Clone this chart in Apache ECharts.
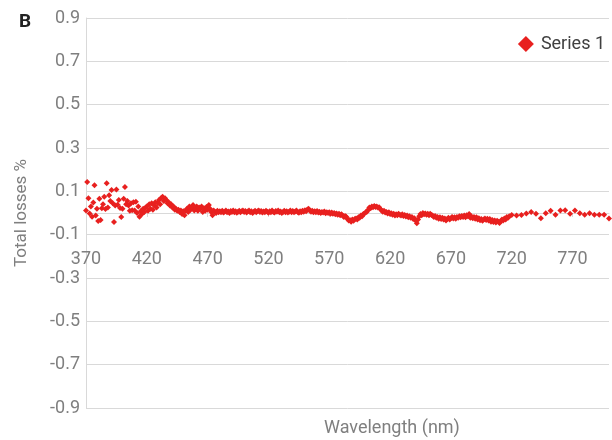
<!DOCTYPE html>
<html>
<head>
<meta charset="utf-8">
<script src="https://cdn.jsdelivr.net/npm/echarts@6/dist/echarts.min.js"></script>
<style>html,body{margin:0;padding:0;background:#fff;}#c{width:612px;height:440px;}</style>
</head>
<body>
<div id="c"></div>
<script>
const panelLabel = 'B';
const seriesName = 'Series 1';
const xTitle = 'Wavelength (nm)';
const yTitle = 'Total losses %';
const xTickValues = [370, 420, 470, 520, 570, 620, 670, 720, 770];
const yTickValues = [-0.9, -0.7, -0.5, -0.3, -0.1, 0.1, 0.3, 0.5, 0.7, 0.9];

const wavelengths = [
370,371,372,373,374,375,376,377,378,379,
380,381,382,383,384,385,386,387,388,389,
390,391,392,393,394,395,396,397,398,399,
400,401,402,403,404,405,406,407,408,409,
410,411,412,413,414,415,416,417,418,419,
420,421,422,423,424,425,426,427,428,429,
430,431,432,433,434,435,436,437,438,439,
440,441,442,443,444,445,446,447,448,449,
450,451,452,453,454,455,456,457,458,459,
460,461,462,463,464,465,466,467,468,469,
470,471,472,473,474,475,476,477,478,479,
480,481,482,483,484,485,486,487,488,489,
490,491,492,493,494,495,496,497,498,499,
500,501,502,503,504,505,506,507,508,509,
510,511,512,513,514,515,516,517,518,519,
520,521,522,523,524,525,526,527,528,529,
530,531,532,533,534,535,536,537,538,539,
540,541,542,543,544,545,546,547,548,549,
550,551,552,553,554,555,556,557,558,559,
560,561,562,563,564,565,566,567,568,569,
570,571,572,573,574,575,576,577,578,579,
580,581,582,583,584,585,586,587,588,589,
590,591,592,593,594,595,596,597,598,599,
600,601,602,603,604,605,606,607,608,609,
610,611,612,613,614,615,616,617,618,619,
620,621,622,623,624,625,626,627,628,629,
630,631,632,633,634,635,636,637,638,639,
640,641,642,643,644,645,646,647,648,649,
650,651,652,653,654,655,656,657,658,659,
660,661,662,663,664,665,666,667,668,669,
670,671,672,673,674,675,676,677,678,679,
680,681,682,683,684,685,686,687,688,689,
690,691,692,693,694,695,696,697,698,699,
700,701,702,703,704,705,706,707,708,709,
710,711,712,713,714,715,716,717,718,
720,724,728,732,736,740,744,748,752,756,
760,764,768,772,776,780,784,788,792,796,800
];

const totalLosses = [
0.012,0.143,0.068,-0.002,0.03,-0.017,0.048,0.128,-0.011,0.02,
-0.037,0.066,-0.032,0.022,0.04,0.075,0.018,0.137,0.025,0.082,
0.055,0.106,0.045,-0.042,0.035,0.109,0.038,0.06,0.023,-0.018,
0.02,0.066,0.12,0.04,0.055,0.035,0.01,0.045,0.013,0.05,
0.012,0.052,0.0,0.03,-0.017,0.008,-0.005,0.02,0.005,0.025,
0.03,0.01,0.04,0.02,0.045,0.015,0.035,0.05,0.025,0.045,
0.06,0.04,0.07,0.075,0.055,0.068,0.06,0.045,0.05,0.035,
0.04,0.025,0.03,0.015,0.02,0.01,0.015,0.005,0.012,-0.005,
0.008,-0.01,0.01,0.02,0.005,0.03,0.015,0.025,0.037,0.012,
0.02,0.03,0.01,0.025,0.018,0.03,0.005,0.022,0.01,0.028,
0.015,0.037,0.02,0.005,-0.01,0.012,0.005,0.0,0.01,0.003,
0.008,0.004,0.01,0.002,0.006,0.012,0.003,0.007,0.0,0.009,
0.005,0.011,0.004,0.008,0.001,0.006,0.01,0.003,0.008,0.012,
0.005,0.009,0.002,0.007,0.011,0.004,0.008,0.0,0.006,0.01,
0.004,0.008,0.012,0.005,0.009,0.002,0.007,0.003,0.01,0.006,
0.001,0.008,0.004,0.011,0.005,0.002,0.009,0.006,0.012,0.003,
0.007,0.0,0.005,0.01,0.004,0.008,0.002,0.006,0.011,0.004,
0.009,0.003,0.007,0.012,0.005,0.001,0.008,0.004,0.01,0.006,
0.013,0.008,0.016,0.02,0.012,0.006,0.01,0.003,0.008,0.004,
0.009,0.002,0.006,0.0,0.005,0.002,0.007,-0.001,0.004,0.0,
0.003,-0.003,0.002,-0.004,0.0,-0.006,-0.002,-0.008,-0.004,-0.01,
-0.006,-0.012,-0.018,-0.014,-0.017,-0.028,-0.035,-0.032,-0.04,-0.03,
-0.036,-0.028,-0.025,-0.03,-0.02,-0.022,-0.012,-0.015,-0.005,-0.002,
0.004,0.006,0.015,0.025,0.022,0.03,0.027,0.032,0.028,0.03,
0.025,0.026,0.018,0.012,0.006,0.01,0.002,0.005,-0.002,0.003,
-0.005,-0.001,-0.008,-0.004,-0.012,-0.006,-0.01,-0.003,-0.008,-0.012,
-0.006,-0.014,-0.009,-0.016,-0.012,-0.02,-0.015,-0.022,-0.018,-0.028,
-0.024,-0.035,-0.047,-0.03,-0.015,-0.005,-0.01,0.0,-0.006,-0.002,
-0.008,-0.004,-0.01,-0.003,-0.009,-0.012,-0.018,-0.014,-0.022,-0.018,
-0.026,-0.02,-0.028,-0.022,-0.03,-0.025,-0.035,-0.028,-0.022,-0.03,
-0.024,-0.018,-0.025,-0.02,-0.026,-0.018,-0.022,-0.015,-0.02,-0.014,
-0.018,-0.012,-0.02,-0.01,-0.015,-0.005,-0.022,-0.016,-0.024,-0.018,
-0.026,-0.02,-0.03,-0.024,-0.034,-0.028,-0.036,-0.03,-0.025,-0.032,
-0.026,-0.035,-0.028,-0.04,-0.032,-0.042,-0.035,-0.044,-0.036,-0.04,
-0.046,-0.038,-0.03,-0.035,-0.025,-0.03,-0.018,-0.022,-0.015,
-0.009,-0.012,-0.009,-0.002,0.005,-0.004,-0.024,-0.001,0.01,-0.008,
0.012,0.013,-0.004,0.011,-0.001,-0.008,-0.001,-0.008,-0.008,-0.008,-0.025
];

const points = wavelengths.map((w, i) => [w, totalLosses[i]]);

const FONT = 'Roboto, "Noto Sans", sans-serif';
const GRAY = '#7f7f7f';
const GRID = '#d9d9d9';
const RED = '#e8201f';

const chart = echarts.init(document.getElementById('c'), null, {renderer: 'canvas'});
chart.setOption({
  animation: false,
  backgroundColor: '#fff',
  textStyle: {fontFamily: FONT},
  title: {
    text: panelLabel, left: 14, top: 8,
    textStyle: {fontFamily: FONT, fontSize: 19, fontWeight: 'bold', color: '#222'}
  },
  legend: {
    data: [seriesName], right: 2, top: 30, icon: 'diamond',
    itemWidth: 16, itemHeight: 16, itemGap: 10,
    textStyle: {fontFamily: FONT, fontSize: 18, color: '#404040', padding: [0, 0, 0, 2]}
  },
  grid: {left: 86, right: 3, top: 18, bottom: 32, containLabel: false, outerBoundsMode: 'none'},
  graphic: [{
    type: 'text', left: 324, top: 419,
    style: {text: xTitle, fontFamily: FONT, fontSize: 18, fill: GRAY}
  }],
  xAxis: {
    type: 'value', min: 370, max: 800,
    position: 'bottom', offset: -195,
    axisLine: {show: true, onZero: false, lineStyle: {color: GRID, width: 1}},
    axisTick: {show: true, length: 4, customValues: xTickValues, lineStyle: {color: GRID}},
    axisLabel: {customValues: xTickValues, margin: 37, fontFamily: FONT, fontSize: 18, color: GRAY},
    splitLine: {show: false}
  },
  yAxis: {
    type: 'value', min: -0.9, max: 0.9,
    name: yTitle, nameLocation: 'middle', nameGap: 56,
    nameTextStyle: {fontFamily: FONT, fontSize: 17, color: GRAY},
    axisLine: {show: true, onZero: false, lineStyle: {color: GRID, width: 1}},
    axisTick: {show: false, customValues: yTickValues},
    axisLabel: {customValues: yTickValues, margin: 6, fontFamily: FONT, fontSize: 18, color: GRAY,
      formatter: v => v.toFixed(1)},
    splitLine: {show: true, lineStyle: {color: GRID, width: 1}}
  },
  series: [{
    name: seriesName, type: 'scatter', data: points,
    symbol: 'diamond', symbolSize: 6,
    itemStyle: {color: RED, opacity: 1}
  }]
});
</script>
</body>
</html>
